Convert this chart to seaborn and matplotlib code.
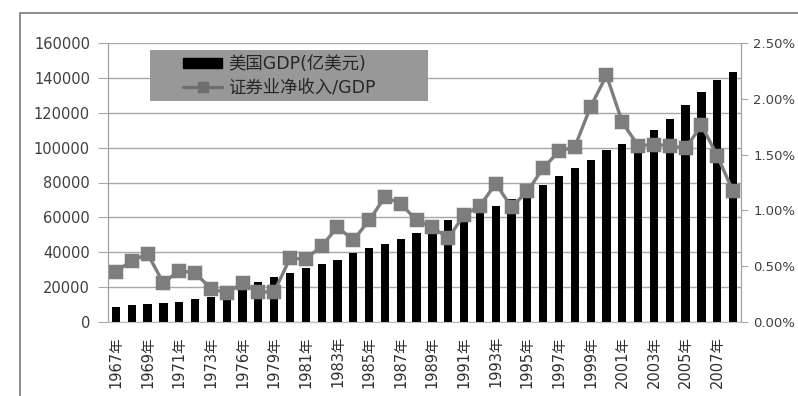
import matplotlib
matplotlib.use("Agg")
import matplotlib.pyplot as plt
import seaborn as sns
import numpy as np
import pandas as pd
from matplotlib.patches import Rectangle, Patch
from matplotlib.lines import Line2D
from matplotlib.ticker import FuncFormatter, FixedLocator

years = [1967, 1968, 1969, 1970, 1971, 1972, 1973, 1974, 1976, 1978,
         1979, 1980, 1981, 1982, 1983, 1984, 1985, 1986, 1987, 1988,
         1989, 1990, 1991, 1992, 1993, 1994, 1995, 1996, 1997, 1998,
         1999, 2000, 2001, 2002, 2003, 2004, 2005, 2006, 2007, 2008]
gdp = [8800, 9700, 10600, 10700, 11600, 13200, 14500, 14800, 18500, 23100,
       25900, 27900, 31100, 33000, 35800, 39600, 42200, 45000, 47500, 51100,
       54800, 58300, 59900, 63600, 66800, 70500, 73800, 78800, 83500, 88200,
       93000, 98500, 101800, 104800, 110000, 116700, 124600, 132000, 138600, 143400]
ratio = [0.45, 0.55, 0.61, 0.35, 0.46, 0.44, 0.30, 0.26, 0.35, 0.27,
         0.27, 0.57, 0.565, 0.68, 0.85, 0.735, 0.91, 1.12, 1.06, 0.91,
         0.85, 0.75, 0.96, 1.04, 1.24, 1.03, 1.17, 1.38, 1.53, 1.57,
         1.93, 2.21, 1.79, 1.58, 1.59, 1.58, 1.555, 1.765, 1.49, 1.17]
left_ticks = [0, 20000, 40000, 60000, 80000, 100000, 120000, 140000, 160000]
right_ticks = [0.0, 0.5, 1.0, 1.5, 2.0, 2.5]
legend_labels = ["美国GDP(亿美元)", "证券业净收入/GDP"]

sns.set_style("white")
plt.rcParams['font.family'] = ['DejaVu Sans', 'Noto Sans CJK SC']

labels = [f"{y}年" for y in years]
df = pd.DataFrame({"year": labels, "gdp": gdp, "ratio": ratio})

W, H = 798, 396
fig = plt.figure(figsize=(W / 100, H / 100), dpi=100)
ax = fig.add_axes([108 / W, 1 - 322 / H, (741 - 108) / W, (322 - 43) / H])

sns.barplot(data=df, x="year", y="gdp", color="black", width=0.52,
            saturation=1, ax=ax, zorder=3)
for p in ax.patches:
    p.set_edgecolor("black")
    p.set_linewidth(0)

ax2 = ax.twinx()
sns.pointplot(data=df, x="year", y="ratio", color="#7d7d7d", markers="s",
              linestyles="-", errorbar=None, ax=ax2,
              markersize=8, linewidth=2.4)

ax.set_ylim(0, 160000)
ax.set_yticks(left_ticks)
ax.yaxis.set_major_formatter(FuncFormatter(lambda v, p: f"{int(v)}"))
ax.set_xlim(-0.5, len(years) - 0.5)
ax2.set_ylim(0, 2.5)
ax2.set_yticks(right_ticks)
ax2.yaxis.set_major_formatter(FuncFormatter(lambda v, p: f"{v:.2f}%"))

ax.set_xticks(list(range(0, len(years), 2)))
ax.set_xticklabels([labels[i] for i in range(0, len(years), 2)], rotation=90,
                   fontsize=10.5, color="#303030")
ax.xaxis.set_minor_locator(FixedLocator(np.arange(-0.5, len(years), 1)))
ax.tick_params(axis="x", which="major", length=0, pad=10)
ax.tick_params(axis="x", which="minor", length=3, color="#999999", width=0.8)

ax.grid(axis="y", color="#a8a8a8", linewidth=1.0, zorder=0)
ax.set_axisbelow(True)
ax.tick_params(axis="y", length=7, color="#a8a8a8", pad=6, labelsize=10.5,
               labelcolor="#404040")
ax2.tick_params(axis="y", length=5, color="#a8a8a8", pad=4, labelsize=9.5,
                labelcolor="#404040")

ax.set_xlabel("")
ax.set_ylabel("")
ax2.set_xlabel("")
ax2.set_ylabel("")
for a in (ax, ax2):
    a.spines["top"].set_visible(False)
    a.spines["left"].set_color("#a0a0a0")
    a.spines["right"].set_color("#a0a0a0")
    a.spines["bottom"].set_color("#c0c0c0")

# figure frame
fig.add_artist(Line2D([20 / W, 20 / W], [0, 1 - 13 / H], color="#8a8a8a",
                      linewidth=1.4, transform=fig.transFigure))
fig.add_artist(Line2D([20 / W, 1], [1 - 13 / H, 1 - 13 / H], color="#8a8a8a",
                      linewidth=1.4, transform=fig.transFigure))

# legend
fig.add_artist(Rectangle((150 / W, 1 - 101 / H), 278 / W, 51 / H,
                         facecolor="#989898", edgecolor="none",
                         transform=fig.transFigure, zorder=4))
handles = [Patch(facecolor="black", edgecolor="black"),
           Line2D([], [], color="#6f6f6f", linewidth=2.4, marker="s",
                  markersize=7)]
leg = fig.legend(handles, legend_labels, loc="upper left",
                 bbox_to_anchor=(183 / W, 1 - 55 / H), frameon=False,
                 fontsize=12.5, borderpad=0, borderaxespad=0,
                 handlelength=2.25, handleheight=0.5, handletextpad=0.35,
                 labelspacing=0.3)
leg.set_zorder(6)
for t in leg.get_texts():
    t.set_color("#262626")

fig.savefig("out.png", dpi=100)
